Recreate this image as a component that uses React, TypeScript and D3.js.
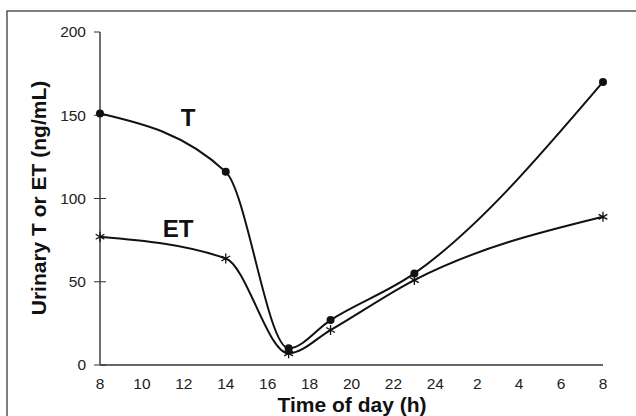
import * as d3 from 'd3';
import React from 'react';

// time of sampling (h, continuing past midnight as 24+)
const hours = [8, 14, 17, 19, 23, 32];
const tValues = [151, 116, 10, 27, 55, 170];
const etValues = [77, 64, 7, 21, 51, 89];
const xTickValues = [8, 10, 12, 14, 16, 18, 20, 22, 24, 26, 28, 30, 32];
const yTickValues = [0, 50, 100, 150, 200];

const width = 636;
const height = 416;
const font = 'Arial, "Liberation Sans", Helvetica, sans-serif';

const App = () => {
    const x = d3.scaleLinear().domain([8, 32]).range([100, 603]);
    const y = d3.scaleLinear().domain([0, 200]).range([365, 32]);

    const line = d3.line<number>()
        .x((d, i) => x(hours[i]))
        .y(d => y(d))
        .curve(d3.curveMonotoneX);

    const star = d3.symbol().type(d3.symbolAsterisk).size(70)();

    return (
        <svg width={width} height={height} style={{ position: 'absolute', left: 0, top: 0, background: '#fff' }}
            fontFamily={font}>
            <rect x={7} y={11} width={width} height={height} fill="none" stroke="#555" strokeWidth={1.5} />

            {/* axes */}
            <line x1={x(8)} x2={x(8)} y1={y(200)} y2={y(0)} stroke="#222" strokeWidth={1.3} />
            <line x1={x(8)} x2={x(32)} y1={y(0)} y2={y(0)} stroke="#333" strokeWidth={1.5} />
            {yTickValues.map(v => (
                <g key={v}>
                    <line x1={x(8) - 6} x2={v === 200 ? x(8) : x(8) + 6} y1={y(v)} y2={y(v)} stroke="#333" strokeWidth={1} />
                    <text x={x(8) - 14} y={y(v)} dy="0.35em" textAnchor="end" fontSize={15.5} fill="#222">{v}</text>
                </g>
            ))}
            {xTickValues.map(h => (
                <text key={h} x={x(h)} y={389} textAnchor="middle" fontSize={15.5} fill="#222">
                    {h > 24 ? h - 24 : h}
                </text>
            ))}

            <text x={352} y={412} textAnchor="middle" fontSize={21} fontWeight="bold" fill="#111">Time of day (h)</text>
            <text transform={`translate(46,198) rotate(-90)`} textAnchor="middle" fontSize={21} fontWeight="bold" fill="#111">
                Urinary T or ET (ng/mL)
            </text>

            {/* series */}
            <path d={line(tValues) || ''} fill="none" stroke="#111" strokeWidth={2} />
            <path d={line(etValues) || ''} fill="none" stroke="#111" strokeWidth={2} />
            {tValues.map((v, i) => (
                <circle key={'t' + i} cx={x(hours[i])} cy={y(v)} r={4} fill="#111" />
            ))}
            {etValues.map((v, i) => (
                <path key={'e' + i} d={star || ''} transform={`translate(${x(hours[i])},${y(v)})`}
                    fill="none" stroke="#111" strokeWidth={1.3} />
            ))}

            <text x={188} y={126} textAnchor="middle" fontSize={24} fontWeight="bold" fill="#111">T</text>
            <text x={178} y={237} textAnchor="middle" fontSize={24} fontWeight="bold" fill="#111">ET</text>
        </svg>
    );
};

export default App;
